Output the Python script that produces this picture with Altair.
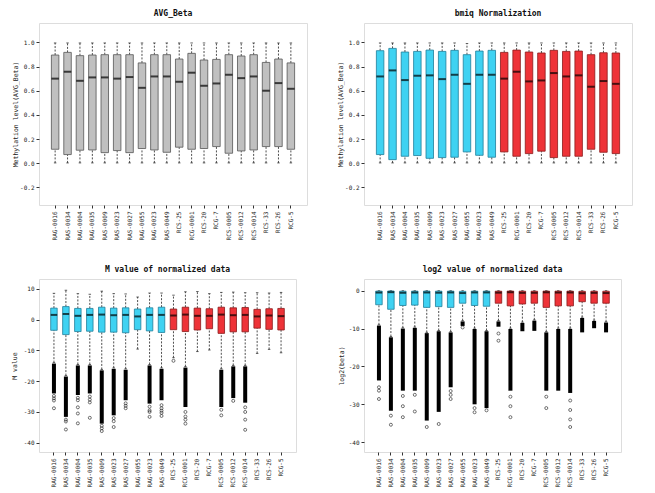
import altair as alt
import pandas as pd

FONT = "DejaVu Sans Mono"

samples = ["RAG-0016", "RAS-0034", "RAG-0004", "RAG-0035", "RAS-0009", "RAS-0023",
           "RAS-0027", "RAG-0055", "RAG-0023", "RAS-0049", "RCS-25", "RCG-0001",
           "RCS-20", "RCG-7", "RCS-0005", "RCS-0012", "RCS-0014", "RCS-33", "RCS-26", "RCG-5"]
groups = ["A"] * 10 + ["C"] * 10

# ---- AVG_Beta (raw) ----
avg_q3 = [0.895, 0.917, 0.890, 0.895, 0.898, 0.898, 0.898, 0.830, 0.898, 0.898,
          0.862, 0.909, 0.854, 0.859, 0.898, 0.887, 0.898, 0.834, 0.862, 0.830]
avg_med = [0.700, 0.757, 0.682, 0.710, 0.710, 0.700, 0.713, 0.624, 0.718, 0.718,
           0.674, 0.749, 0.641, 0.660, 0.732, 0.704, 0.718, 0.600, 0.663, 0.616]
avg_q1 = [0.116, 0.072, 0.108, 0.110, 0.088, 0.105, 0.088, 0.122, 0.110, 0.091,
          0.133, 0.116, 0.122, 0.138, 0.083, 0.102, 0.110, 0.138, 0.138, 0.116]
avg_whi = [0.995, 0.995, 0.995, 0.995, 0.995, 0.995, 0.995, 0.995, 0.995, 0.995,
           0.995, 0.995, 0.995, 0.995, 0.995, 0.995, 0.995, 0.995, 0.995, 0.995]
avg_wlo = [0.003, 0.003, 0.003, 0.003, 0.003, 0.003, 0.003, 0.003, 0.003, 0.003,
           0.003, 0.003, 0.003, 0.003, 0.003, 0.003, 0.003, 0.003, 0.003, 0.003]

# ---- bmiq normalization ----
bm_q3 = [0.931, 0.950, 0.920, 0.925, 0.936, 0.925, 0.934, 0.898, 0.928, 0.934,
         0.917, 0.936, 0.920, 0.912, 0.934, 0.925, 0.928, 0.898, 0.914, 0.912]
bm_med = [0.718, 0.768, 0.688, 0.724, 0.727, 0.696, 0.732, 0.657, 0.732, 0.732,
          0.700, 0.757, 0.677, 0.685, 0.746, 0.718, 0.727, 0.633, 0.680, 0.657]
bm_q1 = [0.072, 0.030, 0.058, 0.064, 0.041, 0.047, 0.050, 0.094, 0.066, 0.050,
         0.094, 0.058, 0.080, 0.100, 0.047, 0.058, 0.058, 0.116, 0.091, 0.080]
bm_whi = [0.995, 0.995, 0.995, 0.995, 0.995, 0.995, 0.995, 0.990, 0.995, 0.995,
          0.995, 0.995, 0.995, 0.995, 0.995, 0.995, 0.995, 0.995, 0.995, 0.995]
bm_wlo = [0.003, 0.003, 0.003, 0.003, 0.003, 0.003, 0.003, 0.003, 0.003, 0.003,
          0.003, 0.003, 0.003, 0.003, 0.003, 0.003, 0.003, 0.003, 0.003, 0.003]

# ---- M value ----
m_q3 = [3.7, 4.2, 3.6, 3.6, 4.0, 3.7, 3.8, 3.4, 3.8, 4.0,
        3.4, 4.0, 3.7, 3.5, 4.0, 3.8, 3.9, 3.3, 3.5, 3.6]
m_med = [1.5, 1.8, 1.2, 1.5, 1.6, 1.4, 1.5, 1.0, 1.5, 1.5,
         1.3, 1.6, 1.2, 1.2, 1.6, 1.4, 1.5, 1.0, 1.3, 1.1]
m_q1 = [-3.5, -4.9, -3.9, -3.8, -4.1, -4.1, -4.3, -3.3, -3.7, -4.2,
        -3.3, -3.9, -3.4, -3.0, -4.5, -4.0, -4.0, -2.8, -3.2, -3.4]
m_whi = [8.5, 9.5, 8.4, 8.2, 9.2, 8.4, 8.3, 7.3, 8.6, 8.6,
         7.9, 9.0, 9.1, 8.4, 8.8, 8.9, 8.7, 8.7, 8.6, 8.8]
m_wlo = [-14.0, -18.2, -14.6, -14.6, -16.2, -15.7, -16.0, -9.6, -14.6, -15.7,
         -12.4, -15.3, -10.4, -9.9, -16.0, -14.9, -14.9, -11.0, -9.7, -10.8]
m_dense_hi = [-14.3, -18.5, -14.9, -14.9, -16.5, -16.0, -16.3, None, -14.9, -16.0,
              None, -15.6, None, None, -16.3, -15.2, -15.2, None, None, None]
m_dense_lo = [-24.0, -31.6, -24.5, -24.0, -33.8, -31.1, -26.2, None, -27.3, -26.2,
              None, -28.4, None, None, -28.4, -25.5, -27.0, None, None, None]
m_sparse = [[-24.8, -25.6, -26.3, -28.8], [-32.5, -33.1, -35.7], [-25.4, -26.2, -28.5, -30.5, -33.7],
            [-25.0, -26.0, -26.9, -31.9], [-34.5, -35.3, -36.2], [-32.0, -33.0, -34.9],
            [-27.2, -28.0, -28.8], [], [-28.3, -29.5, -30.0, -31.6], [-27.8, -28.8, -29.6, -30.3, -31.3],
            [-13.4], [-30.0, -31.5, -32.5, -33.8], [], [], [-29.3, -31.1],
            [-26.4], [-28.5, -30.0, -32.5, -35.8], [], [], []]

# ---- log2(beta) ----
lg_q3 = [-0.10, -0.07, -0.12, -0.11, -0.09, -0.11, -0.10, -0.16, -0.11, -0.10,
         -0.12, -0.09, -0.12, -0.13, -0.10, -0.11, -0.11, -0.16, -0.13, -0.13]
lg_med = [-0.48, -0.38, -0.54, -0.47, -0.46, -0.52, -0.45, -0.61, -0.45, -0.45,
          -0.51, -0.40, -0.56, -0.55, -0.42, -0.48, -0.46, -0.66, -0.56, -0.61]
lg_q1 = [-3.7, -4.9, -3.9, -3.8, -4.4, -4.2, -4.4, -3.3, -3.9, -4.1,
         -3.3, -4.0, -3.5, -3.3, -4.4, -4.0, -4.0, -2.9, -3.3, -3.3]
lg_whi = [-0.005, -0.005, -0.005, -0.005, -0.005, -0.005, -0.005, -0.005, -0.005, -0.005,
          -0.005, -0.005, -0.005, -0.005, -0.005, -0.005, -0.005, -0.005, -0.005, -0.005]
lg_wlo = [-9.0, -12.1, -9.8, -9.6, -11.0, -10.5, -10.8, -7.9, -9.9, -10.5,
          -7.9, -9.9, -8.3, -7.7, -10.8, -9.9, -9.9, -7.0, -7.8, -8.2]
lg_dense_hi = [-9.2, -12.3, -10.0, -9.8, -11.2, -10.7, -11.0, -8.1, -10.1, -10.7,
               -8.1, -10.1, -8.5, -7.9, -11.0, -10.1, -10.1, -7.2, -8.0, -8.4]
lg_dense_lo = [-23.7, -31.7, -26.4, -26.4, -34.3, -32.0, -25.5, -9.3, -30.0, -31.0,
               -9.5, -26.4, -10.7, -10.6, -26.4, -26.4, -27.0, -11.0, -9.9, -11.0]
lg_sparse = [[-25.5, -26.4, -28.6], [-33.0, -35.4], [-27.8, -30.5, -33.4], [-27.5, -31.9],
             [-36.0], [-35.2], [-26.5, -27.5, -28.6], [-9.7], [-31.0, -32.1], [-31.6],
             [-11.3, -13.2], [-28.0, -30.5, -33.4], [], [], [-28.0, -31.0],
             [], [-29.0, -31.5, -34.0, -36.0], [], [], []]

GRAY_FILL, GRAY_STROKE = "#c0c0c0", "#555555"
CYAN_FILL, CYAN_STROKE = "#3fd2f2", "#1f7f9a"
RED_FILL, RED_STROKE = "#ee3338", "#8a1a1a"


def panel(title, ytitle, q1, med, q3, wlo, whi, dhi, dlo, sparse, fills, strokes,
          domain, ticks, w, h, pad_outer, box, title_x, fmt):
    df = pd.DataFrame({"sample": samples, "grp": groups, "q1": q1, "med": med, "q3": q3,
                       "wlo": wlo, "whi": whi})
    base = alt.Chart(df)
    yscale = alt.Scale(domain=domain, nice=False, zero=False)
    xenc = alt.X("sample:N", sort=samples,
                 scale=alt.Scale(domain=samples, paddingInner=0, paddingOuter=pad_outer),
                 axis=alt.Axis(title=None, labelAngle=270, labelFontSize=6, labelFont=FONT,
                               tickSize=3, labelPadding=3, domain=False, tickColor="#333",
                               labelColor="#222"))
    yaxis = alt.Axis(title=ytitle, values=ticks, grid=False, domain=False, tickSize=3,
                     labelFontSize=6, labelFont=FONT, labelColor="#222", tickColor="#333",
                     labelPadding=2, titleFont=FONT, titleFontSize=6.5, titleFontWeight="normal",
                     titleColor="#222", titleX=title_x,
                     labelExpr="replace(format(datum.value, '" + fmt + "'), '\u2212', '-')")

    def Y(field):
        return alt.Y(field, scale=yscale, axis=yaxis, title=ytitle)

    up = base.mark_rule(color="#222", strokeDash=[2, 1.5], strokeWidth=0.8).encode(
        x=xenc, y=Y("q3:Q"), y2="whi")
    lo = base.mark_rule(color="#222", strokeDash=[2, 1.5], strokeWidth=0.8).encode(
        x=xenc, y=Y("wlo:Q"), y2="q1")
    cap_hi = base.mark_tick(size=2.5, thickness=1, color="#222").encode(x=xenc, y=Y("whi:Q"))
    cap_lo = base.mark_tick(size=2.5, thickness=1, color="#222").encode(x=xenc, y=Y("wlo:Q"))
    bars = base.mark_bar(size=box, strokeWidth=0.8).encode(
        x=xenc, y=Y("q1:Q"), y2="q3",
        fill=alt.Fill("grp:N", scale=alt.Scale(domain=["A", "C"], range=fills), legend=None),
        stroke=alt.Stroke("grp:N", scale=alt.Scale(domain=["A", "C"], range=strokes), legend=None))
    meds = base.mark_tick(size=box, thickness=2, color="black").encode(x=xenc, y=Y("med:Q"))
    layers = [up, lo, cap_hi, cap_lo, bars, meds]
    if dhi is not None:
        dd = pd.DataFrame({"sample": samples, "dhi": dhi, "dlo": dlo}).dropna()
        dense = alt.Chart(dd).mark_rule(color="black", strokeWidth=4).encode(
            x=xenc, y=Y("dhi:Q"), y2="dlo")
        rows = [{"sample": s, "v": v} for s, vals in zip(samples, sparse) for v in vals]
        sp = alt.Chart(pd.DataFrame(rows)).mark_point(
            shape="circle", filled=False, size=9, strokeWidth=0.8, color="black").encode(
            x=xenc, y=Y("v:Q"))
        layers += [dense, sp]
    return alt.layer(*layers).properties(
        width=w, height=h,
        title=alt.TitleParams(title, font=FONT, fontSize=8, fontWeight="bold", offset=5,
                              color="#111"))


p1 = panel("AVG_Beta", "Methylation level(AVG_Beta)", avg_q1, avg_med, avg_q3, avg_wlo, avg_whi,
           None, None, None, [GRAY_FILL, GRAY_FILL], [GRAY_STROKE, GRAY_STROKE],
           [-0.345, 1.16], [-0.2, 0, 0.2, 0.4, 0.6, 0.8, 1.0], 268, 182, 0.8, 7.5, -21, ".1f")
p2 = panel("bmiq Normalization", "Methylation level(AVG_Beta)", bm_q1, bm_med, bm_q3, bm_wlo, bm_whi,
           None, None, None, [CYAN_FILL, RED_FILL], [CYAN_STROKE, RED_STROKE],
           [-0.345, 1.16], [-0.2, 0, 0.2, 0.4, 0.6, 0.8, 1.0], 268, 182, 0.8, 7.5, -21, ".1f")
p3 = panel("M value of normalized data", "M value", m_q1, m_med, m_q3, m_wlo, m_whi,
           m_dense_hi, m_dense_lo, m_sparse, [CYAN_FILL, RED_FILL], [CYAN_STROKE, RED_STROKE],
           [-43.0, 13.15], [-40, -30, -20, -10, 0, 10], 257, 173, 0.75, 6.5, -22, "d")
p4 = panel("log2 value of normalized data", "log2(beta)", lg_q1, lg_med, lg_q3, lg_wlo, lg_whi,
           lg_dense_hi, lg_dense_lo, lg_sparse, [CYAN_FILL, RED_FILL], [CYAN_STROKE, RED_STROKE],
           [-42.6, 3.1], [-40, -30, -20, -10, 0], 257, 173, 0.75, 6.5, -20, "d")


def spacer(w):
    return alt.Chart(pd.DataFrame({"v": [0]})).mark_point(opacity=0).encode(
        x=alt.value(0), y=alt.value(0)).properties(
        width=w, height=10, view=alt.ViewBackground(stroke="transparent"))


chart = alt.concat(spacer(0), p1, spacer(57), p2,
                   spacer(16), p3, spacer(55), p4,
                   columns=4, align="none", bounds="flush",
                   spacing={"row": 74, "column": 0}).resolve_scale(
    fill="independent", stroke="independent"
).properties(
    padding={"left": 2, "top": 1, "right": 5, "bottom": 5}
).configure_view(stroke="#666666", strokeWidth=1).configure(background="white")

chart.save("out.html", embed_options={"renderer": "svg", "actions": False})
